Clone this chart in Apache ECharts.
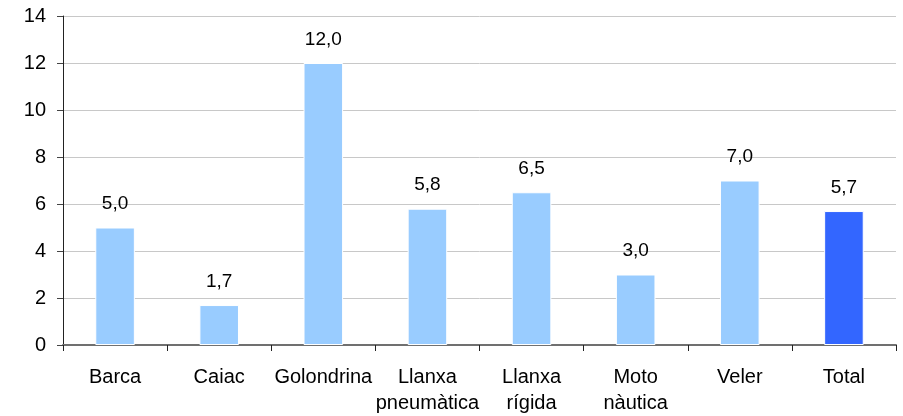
<!DOCTYPE html>
<html>
<head>
<meta charset="utf-8">
<script src="https://cdn.jsdelivr.net/npm/echarts@6/dist/echarts.min.js"></script>
<style>html,body{margin:0;padding:0;background:#fff;}#c{width:903px;height:416px;}</style>
</head>
<body>
<div id="c"></div>
<script>
const categories = ['Barca', 'Caiac', 'Golondrina', 'Llanxa\npneumàtica', 'Llanxa\nrígida', 'Moto\nnàutica', 'Veler', 'Total'];
const values = [5.0, 1.7, 12.0, 5.8, 6.5, 3.0, 7.0, 5.7];
const highlight = ['Total'];

const chart = echarts.init(document.getElementById('c'));
const font = 'Liberation Sans, Arial, sans-serif';
chart.setOption({
  animation: false,
  grid: { left: 63, right: 7, top: 16, bottom: 71 },
  xAxis: {
    type: 'category',
    data: categories,
    axisLine: { lineStyle: { color: '#707070', width: 2 } },
    axisTick: { show: true, length: 6, lineStyle: { color: '#222' } },
    axisLabel: { color: '#000', fontFamily: font, fontSize: 20, margin: 19, lineHeight: 26, interval: 0 }
  },
  yAxis: {
    type: 'value',
    min: 0, max: 14, interval: 2,
    axisLine: { show: true, lineStyle: { color: '#222', width: 1 } },
    axisTick: { show: true, length: 6, lineStyle: { color: '#444' } },
    axisLabel: { color: '#000', fontFamily: font, fontSize: 20, margin: 17 },
    splitLine: { lineStyle: { color: '#C8C8C8', width: 1 } }
  },
  series: [{
    type: 'bar',
    data: values.map((v, i) => ({
      value: v,
      itemStyle: { color: highlight.includes(categories[i]) ? '#3366FF' : '#99CCFF' }
    })),
    barWidth: '38%',
    itemStyle: { borderColor: '#fff', borderWidth: 1 },
    label: {
      show: true, position: 'top', distance: 14,
      color: '#000', fontFamily: font, fontSize: 19,
      formatter: p => p.value.toFixed(1).replace('.', ',')
    }
  }]
});
</script>
</body>
</html>
